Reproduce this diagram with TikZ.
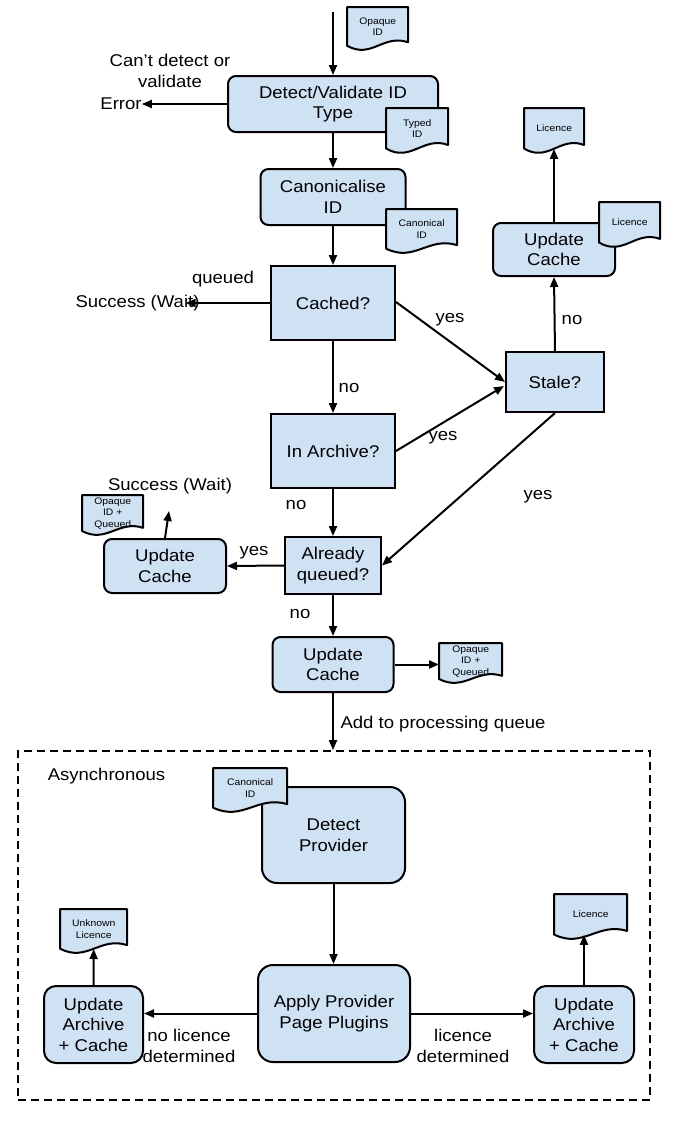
\documentclass[tikz,border=0pt]{standalone}
\usepackage{fontspec}
\setmainfont{Liberation Sans}[FakeStretch=1.09]
\usetikzlibrary{arrows.meta,calc}
\definecolor{boxfill}{HTML}{CFE2F3}
\tikzset{
  every node/.style={font=\fontsize{17}{20.5}\selectfont, inner sep=0pt},
  proc/.style={draw, fill=boxfill, line width=2pt, rounded corners=8pt, align=center},
  bigproc/.style={proc, rounded corners=15pt},
  dec/.style={draw, fill=boxfill, line width=2pt, align=center},
  lbl/.style={align=center},
  arr/.style={line width=2pt, -{Triangle[length=10pt,width=8pt]}},
  doctext/.style={font=\fontsize{9.5}{11.5}\selectfont, align=center, anchor=north west},
  docline/.style={draw, fill=boxfill, line width=2pt, line join=round},
  asyncstyle/.style={draw, line width=1.8pt, dash pattern=on 8pt off 5pt}
}
\newcommand{\docn}[6]{%
  \pgfmathsetmacro{\dxa}{#2}\pgfmathsetmacro{\dya}{#3}%
  \pgfmathsetmacro{\dxb}{#2+#4}%
  \pgfmathsetmacro{\dyr}{#3+0.82*#5}%
  \pgfmathsetmacro{\dyl}{#3+0.9*#5}%
  \pgfmathsetmacro{\dxc}{#2+0.6*#4}\pgfmathsetmacro{\dyc}{#3+0.62*#5}%
  \pgfmathsetmacro{\dxd}{#2+0.4*#4}\pgfmathsetmacro{\dyd}{#3+1.22*#5}%
  \pgfmathsetmacro{\dmh}{0.9*#5}%
  \path[docline] (\dxa,\dya) -- (\dxb,\dya) -- (\dxb,\dyr) .. controls (\dxc,\dyc) and (\dxd,\dyd) .. (\dxa,\dyl) -- cycle;
  \node[doctext, minimum width=#4pt, minimum height=\dmh pt] (#1) at (\dxa,\dya) {#6};
}
\begin{document}
\begin{tikzpicture}[x=1pt, y=-1pt]
\useasboundingbox (0,0) rectangle (681,1127);

% async container
\node[asyncstyle, minimum width=632pt, minimum height=349pt] (asyncbox) at (334,925.5) {};
\node[lbl] (asynclbl) at (106.5,776) {Asynchronous};

% process / decision boxes
\node[proc, minimum width=210pt, minimum height=56pt] (dv) at (333,104) {Detect/Validate ID\\Type};
\node[proc, minimum width=145pt, minimum height=56pt] (canon) at (333,197) {Canonicalise\\ID};
\node[dec, minimum width=124pt, minimum height=74pt] (cached) at (333,303) {Cached?};
\node[dec, minimum width=98pt, minimum height=60pt] (stale) at (555,382) {Stale?};
\node[proc, minimum width=122pt, minimum height=53pt] (uctr) at (554,249.5) {Update\\Cache};
\node[dec, minimum width=124pt, minimum height=74pt] (inarch) at (333,451) {In Archive?};
\node[dec, minimum width=96pt, minimum height=57pt] (aq) at (333,565.5) {Already\\queued?};
\node[proc, minimum width=122pt, minimum height=54pt] (ucl) at (165,566) {Update\\Cache};
\node[proc, minimum width=121pt, minimum height=55pt] (ucm) at (333,664.5) {Update\\Cache};
\node[bigproc, minimum width=143pt, minimum height=96pt] (dp) at (333.5,835) {Detect\\Provider};
\node[bigproc, minimum width=152pt, minimum height=97pt] (apply) at (334,1013.5) {Apply Provider\\Page Plugins};
\node[proc, rounded corners=12pt, minimum width=99pt, minimum height=77pt] (ual) at (93.5,1024.5) {Update\\Archive\\+ Cache};
\node[proc, rounded corners=12pt, minimum width=100pt, minimum height=77pt] (uar) at (584,1024.5) {Update\\Archive\\+ Cache};

% documents
\docn{opq}{347}{7}{61}{43}{Opaque\\ID}
\docn{typed}{386}{108}{62}{45}{Typed\\ID}
\docn{canid}{386}{209}{71}{44}{Canonical\\ID}
\docn{lica}{524}{108}{60}{45}{Licence}
\docn{licb}{599}{202}{61}{45}{Licence}
\docn{oiqa}{82}{495}{61}{40}{Opaque\\ID +\\Queued}
\docn{oiqb}{439}{643}{63}{40}{Opaque\\ID +\\Queued}
\docn{canidb}{213}{768}{74}{44}{Canonical\\ID}
\docn{unk}{60}{909}{67}{44}{Unknown\\Licence}
\docn{licc}{554}{894}{73}{45}{Licence}

% terminal texts and labels
\node[lbl] (err) at (121,104) {Error};
\node[lbl] (cantlbl) at (170,71) {Can't detect or\\validate};
\node[lbl] (succa) at (137.5,303) {Success (Wait)};
\node[lbl] (queuedlbl) at (223,279) {queued};
\node[lbl] (yesa) at (450,320) {yes};
\node[lbl] (noa) at (572,320) {no};
\node[lbl] (nob) at (349,388) {no};
\node[lbl] (yesb) at (443,438) {yes};
\node[lbl] (yesc) at (538,497) {yes};
\node[lbl] (noc) at (296,505) {no};
\node[lbl] (succb) at (170,486) {Success (Wait)};
\node[lbl] (yesd) at (254,553) {yes};
\node[lbl] (nod) at (300,614) {no};
\node[lbl] (addlbl) at (443,724) {Add to processing queue};
\node[lbl] (nolic) at (189,1046) {no licence\\determined};
\node[lbl] (lic) at (463,1046) {licence\\determined};

\coordinate (start) at (333,12);
\coordinate (succbend) at (169,511);

% connectors
\draw[arr] (start) -- (start |- dv.north);
\draw[arr] (dv.west) -- (err.east);
\draw[arr] (dv) -- (canon);
\draw[arr] (canon) -- (cached);
\draw[arr] (cached.west) -- ($(succa.east)+(-14,0)$);
\draw[arr] ($(cached.east)+(0,-1)$) -- (stale.west);
\draw[arr] (inarch.east) -- ($(stale.west)+(-1,4)$);
\draw[arr] (cached) -- (inarch);
\draw[arr] (stale.north) -- (uctr.south);
\draw[arr] (uctr.north) -- (uctr.north |- lica.south);
\draw[arr] (stale.south) -- (aq.east);
\draw[arr] (inarch) -- (aq);
\draw[arr] (aq.west) -- (ucl.east);
\draw[arr] (ucl.north) -- (succbend);
\draw[arr] (aq) -- (ucm);
\draw[arr] (ucm.east) -- (ucm.east -| oiqb.west);
\draw[arr] (ucm.south) -- (ucm.south |- asyncbox.north);
\draw[arr] (dp.south) -- (dp.south |- apply.north);
\draw[arr] (apply.west) -- (apply.west -| ual.east);
\draw[arr] (apply.east) -- (apply.east -| uar.west);
\draw[arr] (ual.north) -- (unk.south);
\draw[arr] (uar.north) -- (uar.north |- licc.south);
\end{tikzpicture}
\end{document}
